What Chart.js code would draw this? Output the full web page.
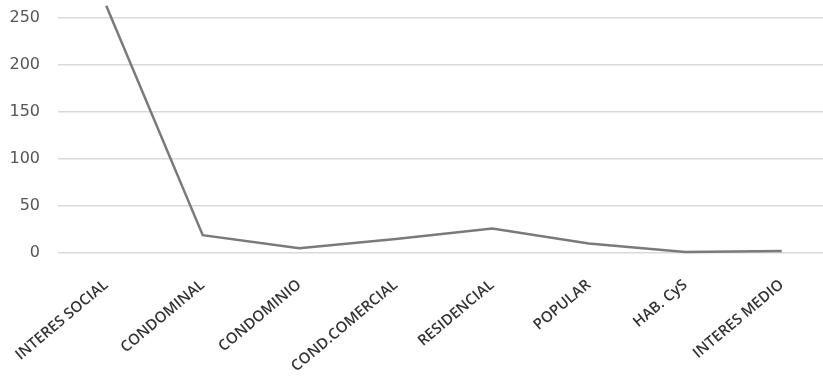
<!DOCTYPE html>
<html>
<head>
<meta charset="utf-8">
<script src="https://cdn.jsdelivr.net/npm/chart.js@4/dist/chart.umd.min.js"></script>
<style>
  html, body { margin: 0; padding: 0; background: #ffffff; overflow: hidden; }
  #wrap { width: 830px; height: 382px; position: relative; }
</style>
</head>
<body>
<div id="wrap"><canvas id="c"></canvas></div>
<script>
const categories = ["INTERES SOCIAL", "CONDOMINAL", "CONDOMINIO", "COND.COMERCIAL", "RESIDENCIAL", "POPULAR", "HAB. CyS", "INTERES MEDIO"];
const values = [263, 19, 5, 15, 26, 10, 1, 2];
const yTicks = [0, 50, 100, 150, 200, 250];

new Chart(document.getElementById('c'), {
  type: 'line',
  data: {
    labels: categories,
    datasets: [{
      data: values,
      borderColor: '#7a7a7a',
      borderWidth: 2.5,
      pointRadius: 0,
      tension: 0,
      fill: false,
      clip: false
    }]
  },
  options: {
    responsive: true,
    maintainAspectRatio: false,
    animation: false,
    layout: { padding: { top: 18, right: 0, left: 0, bottom: 0 } },
    plugins: { legend: { display: false }, tooltip: { enabled: false } },
    scales: {
      x: {
        offset: true,
        grid: { display: false, drawTicks: false },
        border: { display: false },
        ticks: {
          autoSkip: false,
          minRotation: 40,
          maxRotation: 40,
          padding: 23,
          color: '#333333',
          font: { family: 'Open Sans', size: 15, weight: '600' }
        },
        afterFit: (s) => { s.height = 129; s.paddingLeft = 0; s.paddingRight = 0; }
      },
      y: {
        min: 0,
        max: 250,
        afterBuildTicks: (s) => { s.ticks = yTicks.map(v => ({ value: v })); },
        grid: { color: '#d9d9d9', lineWidth: 1.5, drawTicks: false },
        border: { display: false },
        ticks: {
          padding: 18,
          color: '#555555',
          font: { family: 'DejaVu Sans', size: 16 }
        },
        afterFit: (s) => { s.width = 58; s.paddingTop = 0; s.paddingBottom = 0; }
      }
    }
  }
});
</script>
</body>
</html>
